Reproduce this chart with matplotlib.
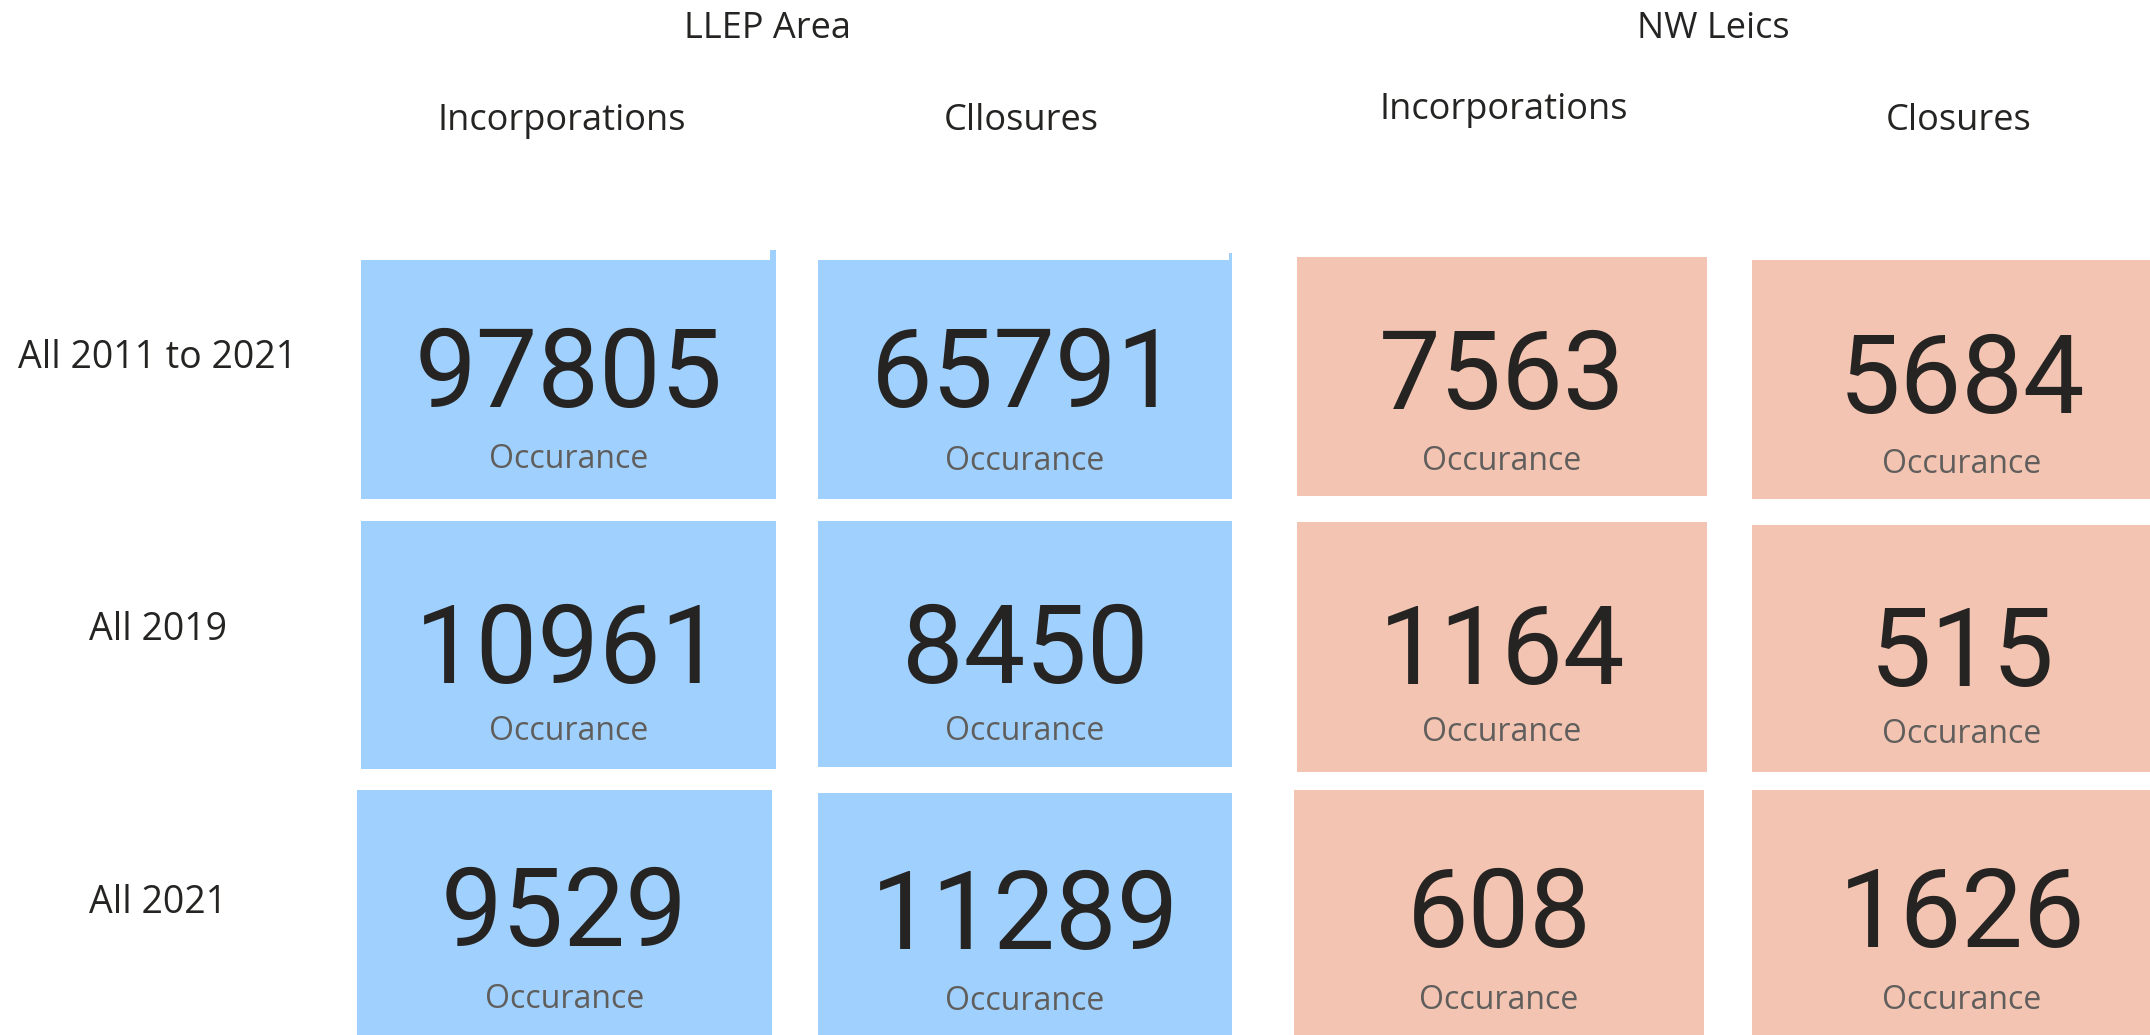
import matplotlib
matplotlib.use('Agg')
import matplotlib.pyplot as plt
from matplotlib.patches import Rectangle

# values
regions = ['LLEP Area', 'NW Leics']
measures = ['Incorporations', 'Cllosures', 'Incorporations', 'Closures']
periods = ['All 2011 to 2021', 'All 2019', 'All 2021']
llep_incorporations = [97805, 10961, 9529]
llep_closures = [65791, 8450, 11289]
nw_incorporations = [7563, 1164, 608]
nw_closures = [5684, 515, 1626]

BLUE = '#A0D0FD'
PEACH = '#F3C4B1'
DARK = '#252423'
GREY = '#605E5C'

# card boxes (left, top, right, bottom) in pixels, row by row
boxes = [
    [(361, 260, 776, 499), (818, 260, 1232, 499), (1297, 257, 1707, 496), (1752, 260, 2172, 499)],
    [(361, 521, 776, 769), (818, 521, 1232, 767), (1297, 522, 1707, 772), (1752, 525, 2172, 772)],
    [(357, 790, 772, 1120), (818, 793, 1232, 1120), (1294, 790, 1704, 1120), (1752, 790, 2172, 1120)],
]
num_base = [[407, 407, 409, 413], [683, 683, 684, 686], [946, 949, 947, 947]]
occ_base = [[468, 470, 470, 473], [740, 740, 741, 743], [1008, 1010, 1009, 1009]]
card_colors = [BLUE, BLUE, PEACH, PEACH]

fig = plt.figure(figsize=(21.5, 10.35), dpi=100)
ax = fig.add_axes([0, 0, 1, 1])
ax.set_xlim(0, 2150)
ax.set_ylim(1035, 0)
ax.axis('off')

columns = [llep_incorporations, llep_closures, nw_incorporations, nw_closures]
for r in range(len(periods)):
    for c, col in enumerate(columns):
        x0, y0, x1, y1 = boxes[r][c]
        ax.add_patch(Rectangle((x0, y0), x1 - x0, y1 - y0, facecolor=card_colors[c],
                               edgecolor='none', zorder=1))
        xc = (x0 + x1) / 2
        ax.text(xc, num_base[r][c], str(col[r]), fontsize=79, family='Roboto',
                color=DARK, ha='center', va='baseline', zorder=3)
        ax.text(xc, occ_base[r][c], 'Occurance', fontsize=23, family='Open Sans',
                color=GREY, ha='center', va='baseline', zorder=3)

# little slivers above the first two blue cards
ax.add_patch(Rectangle((770, 250), 6, 12, facecolor=BLUE, edgecolor='none'))
ax.add_patch(Rectangle((1229, 253), 3, 9, facecolor=BLUE, edgecolor='none'))

# headers
region_x = [767, 1713]
for name, x in zip(regions, region_x):
    ax.text(x, 38, name, fontsize=26, family='Open Sans', color=DARK,
            ha='center', va='baseline')

measure_x = [562, 1021, 1504, 1959]
measure_y = [130, 130, 119, 130]
for name, x, y in zip(measures, measure_x, measure_y):
    ax.text(x, y, name, fontsize=26, family='Open Sans', color=DARK,
            ha='center', va='baseline')

period_y = [368, 640, 913]
for name, y in zip(periods, period_y):
    ax.text(158, y, name, fontsize=27, family='Open Sans', color=DARK,
            ha='center', va='baseline')

plt.savefig('out.png', dpi=100, facecolor='white')
plt.close()
